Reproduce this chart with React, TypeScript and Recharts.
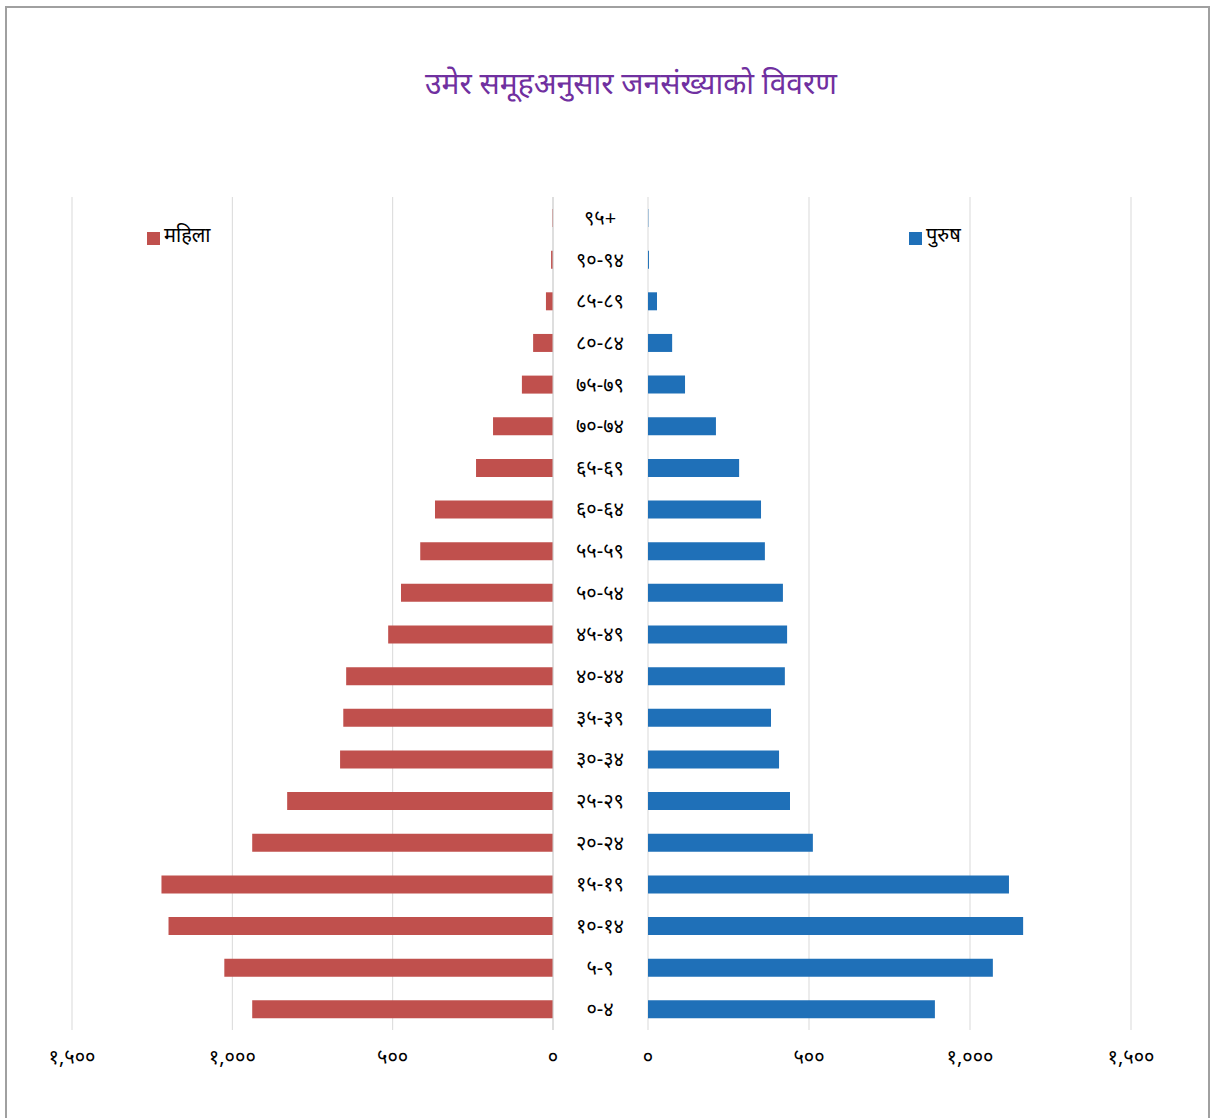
import React from 'react';
import { BarChart, Bar, XAxis, YAxis, CartesianGrid, Legend } from 'recharts';

const ageGroups = [
  '०-४', '५-९', '१०-१४', '१५-१९', '२०-२४', '२५-२९', '३०-३४', '३५-३९', '४०-४४', '४५-४९',
  '५०-५४', '५५-५९', '६०-६४', '६५-६९', '७०-७४', '७५-७९', '८०-८४', '८५-८९', '९०-९४', '९५+',
];
const female = [938, 1025, 1199, 1221, 938, 829, 664, 654, 645, 514, 474, 414, 368, 240, 187, 97, 62, 22, 6, 2];
const male = [891, 1071, 1165, 1121, 512, 441, 407, 382, 425, 432, 419, 363, 351, 283, 211, 115, 75, 28, 3, 1];
const xTicks = [0, 500, 1000, 1500];

const title = 'उमेर समूहअनुसार जनसंख्याको विवरण';
const femaleLabel = 'महिला';
const maleLabel = 'पुरुष';

const FONT = '"Noto Sans", "Noto Sans Devanagari", "Lohit Devanagari", sans-serif';
const devDigits = '०१२३४५६७८९';
const toDev = (n: number) =>
  n.toLocaleString('en-US').replace(/[0-9]/g, d => devDigits[Number(d)]);

const data = ageGroups.map((age, i) => ({ age, female: female[i], male: male[i] }));

const tickStyle = { fill: '#000', fontSize: 20, fontFamily: FONT };
const legendText = (value: string) => (
  <span style={{ color: '#000', fontSize: 20, fontFamily: FONT }}>{value}</span>
);

const App = () => {
  return (
    <div style={{ position: 'absolute', left: 0, top: 0, width: 1212, height: 1118, background: '#fff', overflow: 'hidden' }}>
      <div style={{ position: 'absolute', left: 5, top: 6, width: 1205, height: 1130, border: '2px solid #a0a0a0', boxSizing: 'border-box' }} />
      <div style={{ position: 'absolute', left: 0, top: 62, width: 1262, textAlign: 'center', color: '#7030A0', fontSize: 30, fontFamily: FONT }}>
        {title}
      </div>

      {/* left side: women, axis reversed, age labels on the right edge */}
      <div style={{ position: 'absolute', left: 0, top: 0 }}>
        <BarChart width={648} height={1118} data={data} layout="vertical"
          margin={{ top: 170, right: 0, left: 72, bottom: 28 }}>
          <CartesianGrid horizontal={false} stroke="#d9d9d9" />
          <XAxis type="number" domain={[0, 1500]} ticks={xTicks} reversed
            tickFormatter={toDev} axisLine={false} tickLine={false} tickMargin={14} height={60}
            tick={tickStyle} interval={0} />
          <YAxis type="category" dataKey="age" orientation="right" reversed width={95}
            axisLine={{ stroke: '#d0d0d0' }} tickLine={false} tickSize={0} tickMargin={47}
            tick={{ ...tickStyle, textAnchor: 'middle' }} interval={0} />
          <Legend verticalAlign="top" align="left" iconType="square" iconSize={13}
            formatter={legendText}
            wrapperStyle={{ position: 'absolute', top: 221, left: 147, width: 'auto' }} />
          <Bar dataKey="female" name={femaleLabel} fill="#C0504D" barSize={18}
            legendType="square" isAnimationActive={false} />
        </BarChart>
      </div>

      {/* right side: men */}
      <div style={{ position: 'absolute', left: 600, top: 0 }}>
        <BarChart width={612} height={1118} data={data} layout="vertical"
          margin={{ top: 170, right: 81, left: 48, bottom: 28 }}>
          <CartesianGrid horizontal={false} stroke="#d9d9d9" />
          <XAxis type="number" domain={[0, 1500]} ticks={xTicks}
            tickFormatter={toDev} axisLine={false} tickLine={false} tickMargin={14} height={60}
            tick={tickStyle} interval={0} />
          <YAxis type="category" dataKey="age" reversed hide />
          <Legend verticalAlign="top" align="left" iconType="square" iconSize={13}
            formatter={legendText}
            wrapperStyle={{ position: 'absolute', top: 221, left: 309, width: 'auto' }} />
          <Bar dataKey="male" name={maleLabel} fill="#1F70B8" barSize={18}
            legendType="square" isAnimationActive={false} />
        </BarChart>
      </div>
    </div>
  );
};

export default App;
